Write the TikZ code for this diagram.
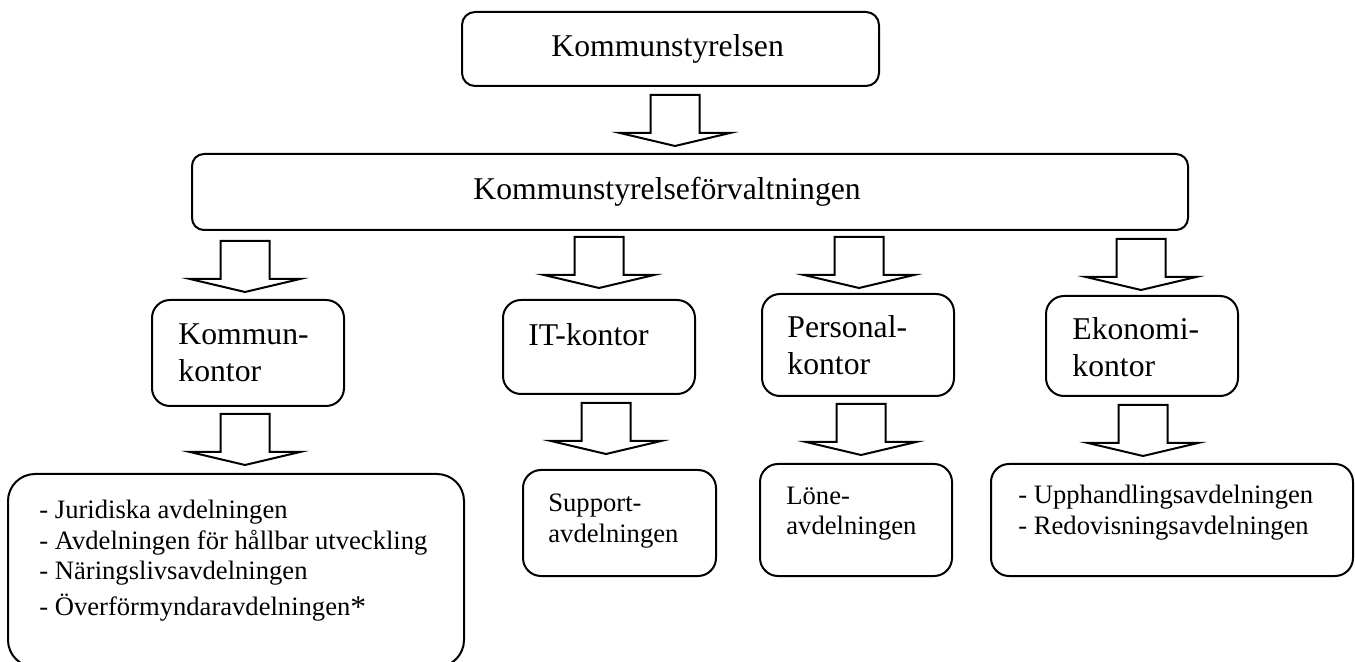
\documentclass[tikz,border=0pt]{standalone}
\usepackage{fontspec}
\setmainfont{Liberation Serif}
\usetikzlibrary{calc}
\begin{document}
\begin{tikzpicture}[x=0.5pt,y=-0.5pt]
\tikzset{
  box/.style={draw, line width=1pt, rounded corners=9pt, inner sep=0pt, minimum width=96pt},
  big/.style={font=\fontsize{15.85}{18.5}\selectfont},
  small/.style={font=\fontsize{13.3}{15.5}\selectfont},
  lbl/.style={anchor=base west, inner sep=0pt, align=left},
  arrowline/.style={draw, line width=1pt, line join=miter},
  blockarrow/.pic={\path[arrowline] (-24.5,0) -- (24.5,0) -- (24.5,38) -- (55,38) -- (0,51) -- (-55,38) -- (-24.5,38) -- cycle;}
}
\useasboundingbox (0,0) rectangle (1355,662);
\clip (0,0) rectangle (1355,662);

% boxes
\node[box, minimum width=208.5pt, minimum height=37pt, rounded corners=6.5pt] (kst) at (670.5,49) {};
\node[box, minimum width=498pt, minimum height=38pt, rounded corners=6pt] (ksf) at (690,192) {};
\node[box, minimum height=53pt] (kk) at (248,353) {};
\node[box, minimum height=47pt] (it) at (599,347) {};
\node[box, minimum height=51pt] (pers) at (858,345) {};
\node[box, minimum height=50pt] (eko) at (1142,346) {};
\node[box, minimum width=228pt, minimum height=96.5pt, rounded corners=13.5pt] (jur) at (236,570.5) {};
\node[box, minimum width=96.5pt, minimum height=53pt] (sup) at (619.5,523) {};
\node[box, minimum height=56pt] (lone) at (856,520) {};
\node[box, minimum width=181pt, minimum height=56pt] (red) at (1172,520) {};

% texts (base = baseline of the last line)
\node[lbl,big] (tkst) at (551,57) {Kommunstyrelsen};
\node[lbl,big] (tksf) at (473,200) {Kommunstyrelseförvaltningen};
\node[lbl,big] (tkk) at (178,382) {Kommun-\\kontor};
\node[lbl,big] (tit) at (528,346) {IT-kontor};
\node[lbl,big] (tpers) at (787,375) {Personal-\\kontor};
\node[lbl,big] (teko) at (1072,377) {Ekonomi-\\kontor};
\node[lbl,small] (tjur) at (39,615) {- Juridiska avdelningen\\- Avdelningen för hållbar utveckling\\- Näringslivsavdelningen\\[2pt]- Överförmyndaravdelningen{\fontsize{15.85}{18.5}\selectfont\raisebox{-1pt}{*}}};
\node[lbl,small] (tsup) at (548,542) {Support-\\[-0.5pt]avdelningen};
\node[lbl,small] (tlone) at (786,535) {Löne-\\[-0.5pt]avdelningen};
\node[lbl,small] (tred) at (1018,535) {- Upphandlingsavdelningen\\[0.5pt]- Redovisningsavdelningen};

% block arrows
\coordinate (a0) at ($(kst.south)+(4.5,8)$);
\coordinate (a1) at (245,241);
\coordinate (a2) at (599,237);
\coordinate (a3) at (859,237);
\coordinate (a4) at (1141,239);
\coordinate (b1) at (245,414);
\coordinate (b2) at (606,403);
\coordinate (b3) at (861,404);
\coordinate (b4) at (1143,405);
\foreach \c in {a0,a1,a2,a3,a4,b1,b2,b3,b4} {\pic at (\c) {blockarrow};}
\end{tikzpicture}
\end{document}
